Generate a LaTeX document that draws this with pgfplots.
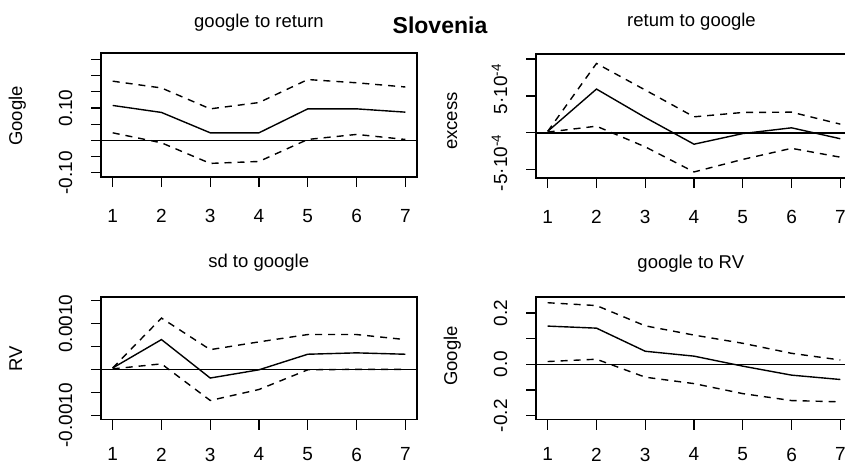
\documentclass[border=0pt]{standalone}
\usepackage{fontspec}
\setmainfont{Liberation Sans}
\usepackage{pgfplots}
\pgfplotsset{compat=1.18}
\pgfplotsset{
  panel/.style={
    scale only axis, width=316pt,
    xmin=0.76, xmax=7.24,
    xtick={1,2,3,4,5,6,7}, xticklabels={1,2,3,4,5,6,7},
    tick align=outside, tick pos=left, major tick length=10pt,
    axis line style={line width=1.4pt},
    every tick/.style={black, line width=1.2pt},
    tick label style={font=\fontsize{19}{19}\selectfont},
    xticklabel style={anchor=north, inner sep=0pt},
    yticklabel style={rotate=90, anchor=south, inner sep=0pt},
    xticklabel shift=22pt,
    yticklabel shift=18.5pt,
    scaled ticks=false,
    clip=true,
  },
  mid/.style={black, line width=1.4pt},
  ci/.style={black, line width=1.4pt, dash pattern=on 7pt off 6pt},
  zero/.style={black, line width=1.5pt},
}
\begin{document}
\begin{tikzpicture}[x=1pt,y=1pt]
\useasboundingbox (0,0) rectangle (845,467);
\clip (0,0) rectangle (845,467);

% Panel 1: google to return
\begin{axis}[panel, at={(101pt,290pt)}, anchor=south west, height=124pt,
  ymin=-0.113, ymax=0.27,
  ytick={-0.1,-0.05,0,0.05,0.1,0.15,0.2,0.25},
  yticklabels={-0.10,,,,0.10,,,}]
\addplot[zero] coordinates {(0,0) (8,0)};
\addplot[mid] coordinates {(1,0.108) (2,0.0864) (3,0.0235) (4,0.0235) (5,0.0975) (6,0.0975) (7,0.0873)};
\addplot[ci] coordinates {(1,0.183) (2,0.162) (3,0.0975) (4,0.117) (5,0.188) (6,0.178) (7,0.165)};
\addplot[ci] coordinates {(1,0.0235) (2,-0.0074) (3,-0.071) (4,-0.065) (5,0.003) (6,0.0185) (7,0.003)};
\end{axis}

% Panel 2: retum to google
\begin{axis}[panel, at={(536pt,289pt)}, anchor=south west, height=124pt,
  ymin=-0.000612, ymax=0.001068,
  ytick={-0.0005,0,0.0005,0.001},
  yticklabels={{\hspace*{14pt}-5·10\textsuperscript{-4}},,{\hspace*{14pt}5·10\textsuperscript{-4}},}]
\addplot[zero] coordinates {(0,0) (8,0)};
\addplot[mid] coordinates {(1,0.00002) (2,0.000593) (3,0.000208) (4,-0.000154) (5,-0.00001) (6,0.000068) (7,-0.00008)};
\addplot[ci] coordinates {(1,0.00002) (2,0.00094) (3,0.00058) (4,0.000217) (5,0.000276) (6,0.00028) (7,0.000118)};
\addplot[ci] coordinates {(1,0.00001) (2,0.00009) (3,-0.00019) (4,-0.00053) (5,-0.00036) (6,-0.00021) (7,-0.00033)};
\end{axis}

% Panel 3: sd to google
\begin{axis}[panel, at={(101pt,47.3pt)}, anchor=south west, height=122.7pt,
  xticklabel shift=18pt,
  ymin=-0.0011, ymax=0.00158,
  ytick={-0.001,-0.0005,0,0.0005,0.001,0.0015},
  yticklabels={-0.0010,,,,0.0010,}]
\addplot[zero] coordinates {(0,0) (8,0)};
\addplot[mid] coordinates {(1,0.00003) (2,0.00065) (3,-0.00019) (4,-0.00001) (5,0.00033) (6,0.00036) (7,0.00033)};
\addplot[ci] coordinates {(1,0.00003) (2,0.00112) (3,0.00043) (4,0.0006) (5,0.00076) (6,0.00076) (7,0.00065)};
\addplot[ci] coordinates {(1,0.00001) (2,0.00012) (3,-0.00068) (4,-0.00044) (5,-0.00001) (6,0) (7,0)};
\end{axis}

% Panel 4: google to RV
\begin{axis}[panel, at={(536pt,47.3pt)}, anchor=south west, height=122.7pt,
  xticklabel shift=18pt,
  ymin=-0.2156, ymax=0.2623,
  ytick={-0.2,-0.1,0,0.1,0.2},
  yticklabels={-0.2,,0.0,,0.2}]
\addplot[zero] coordinates {(0,0) (8,0)};
\addplot[mid] coordinates {(1,0.149) (2,0.141) (3,0.051) (4,0.032) (5,-0.007) (6,-0.042) (7,-0.059)};
\addplot[ci] coordinates {(1,0.24) (2,0.229) (3,0.15) (4,0.114) (5,0.082) (6,0.043) (7,0.017)};
\addplot[ci] coordinates {(1,0.011) (2,0.02) (3,-0.05) (4,-0.075) (5,-0.114) (6,-0.141) (7,-0.146)};
\end{axis}

% Titles
\node[anchor=base, font=\fontsize{18.5}{18.5}\selectfont] at (259,439.7) {google to return};
\node[anchor=base, font=\fontsize{18.5}{18.5}\selectfont] at (691.5,440) {retum to google};
\node[anchor=base, font=\fontsize{18.5}{18.5}\selectfont] at (258.7,199.3) {sd to google};
\node[anchor=base, font=\fontsize{18.5}{18.5}\selectfont] at (690.8,198.8) {google to RV};
\node[anchor=base, font=\fontsize{23}{23}\selectfont\bfseries] at (440,433.7) {Slovenia};

% y labels
\node[anchor=base, rotate=90, font=\fontsize{18.5}{18.5}\selectfont] at (22,351) {Google};
\node[anchor=base, rotate=90, font=\fontsize{18.5}{18.5}\selectfont] at (457,346) {excess};
\node[anchor=base, rotate=90, font=\fontsize{18.5}{18.5}\selectfont] at (22,108) {RV};
\node[anchor=base, rotate=90, font=\fontsize{18.5}{18.5}\selectfont] at (457,111) {Google};
\end{tikzpicture}
\end{document}
